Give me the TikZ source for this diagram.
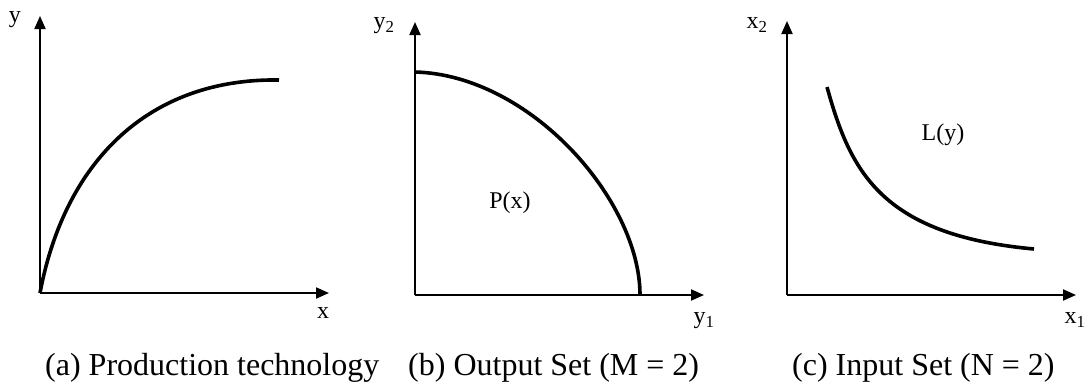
\documentclass[tikz,border=0pt]{standalone}
\usepackage{fontspec}
\setmainfont{Liberation Serif}
\usetikzlibrary{arrows.meta}
\tikzset{
  axisline/.style={line width=2pt, -{Triangle[length=13pt,width=11pt]}},
  curveline/.style={line width=3.6pt},
  lab/.style={font=\fontsize{24}{28}\selectfont, inner sep=0pt},
  captext/.style={font=\fontsize{32}{36}\selectfont, inner sep=0pt, anchor=base west},
}
\begin{document}
\begin{tikzpicture}[x=1pt,y=-1pt]
\useasboundingbox (0,0) rectangle (1086,383);
% ---------- panel (a)
\coordinate (oa) at (40,293);
\coordinate (ya) at (40,16);
\coordinate (xa) at (329,293);
\coordinate (ea) at (279,80);
\draw[axisline] (oa) -- (ya);
\draw[axisline] (oa) -- (xa);
\draw[curveline] (oa) .. controls (65,160) and (150,78) .. (ea);
\node[lab] (lya) at (15,20) {y};
\node[lab] (lxa) at (323,313) {x};
\node[captext] (capa) at (45,375) {(a) Production technology};
% ---------- panel (b)
\coordinate (ob) at (415,295);
\coordinate (yb) at (415,22);
\coordinate (xb) at (704,295);
\coordinate (sb) at (415,72);
\coordinate (eb) at (640,295);
\draw[axisline] (ob) -- (yb);
\draw[axisline] (ob) -- (xb);
\draw[curveline] (sb) .. controls (530,75) and (640,200) .. (eb);
\node[lab] (lyb) at (384,26) {y\textsubscript{2}};
\node[lab] (lxb) at (704,321) {y\textsubscript{1}};
\node[lab] (pb) at (510,203) {P(x)};
\node[captext] (capb) at (408,375) {(b) Output Set (M = 2)};
% ---------- panel (c)
\coordinate (oc) at (787,295);
\coordinate (yc) at (787,21);
\coordinate (xc) at (1076,295);
\coordinate (sc) at (827,87);
\coordinate (ec) at (1034,249);
\draw[axisline] (oc) -- (yc);
\draw[axisline] (oc) -- (xc);
\draw[curveline] (sc) .. controls (850,170) and (880,235) .. (ec);
\node[lab] (lyc) at (757,25) {x\textsubscript{2}};
\node[lab] (lxc) at (1075,320) {x\textsubscript{1}};
\node[lab] (lc) at (943,135) {L(y)};
\node[captext] (capc) at (792,375) {(c) Input Set (N = 2)};
\end{tikzpicture}
\end{document}
